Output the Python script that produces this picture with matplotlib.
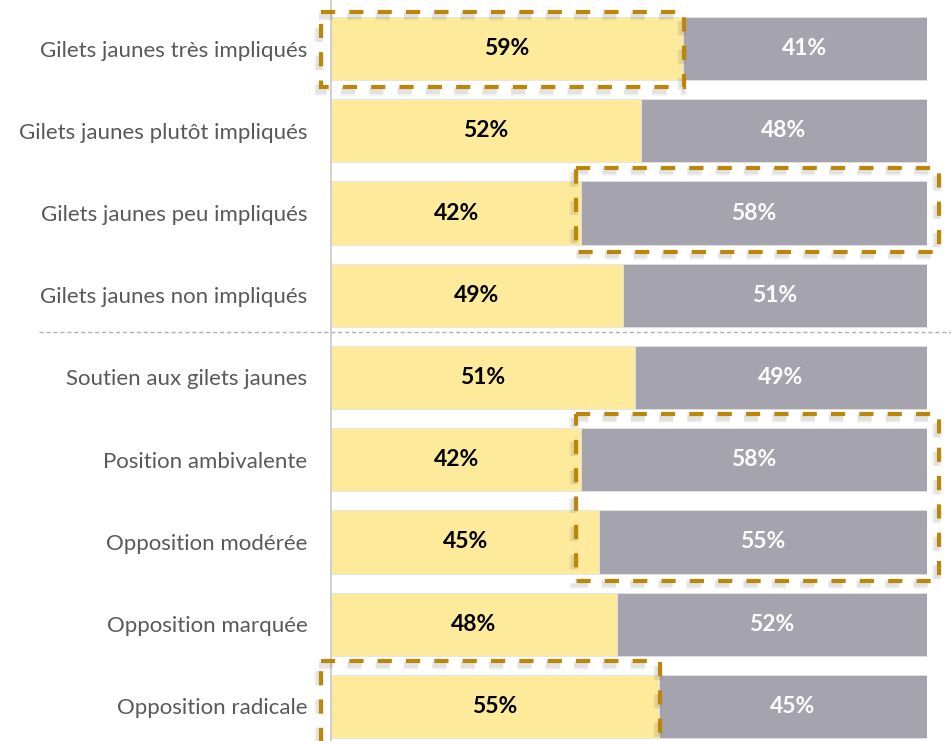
import matplotlib
matplotlib.use('Agg')
import matplotlib.pyplot as plt
import matplotlib.transforms as mtransforms
from matplotlib.patches import Rectangle

categories = ['Gilets jaunes très impliqués', 'Gilets jaunes plutôt impliqués',
              'Gilets jaunes peu impliqués', 'Gilets jaunes non impliqués',
              'Soutien aux gilets jaunes', 'Position ambivalente',
              'Opposition modérée', 'Opposition marquée', 'Opposition radicale']
yes_vals = [59, 52, 42, 49, 51, 42, 45, 48, 55]
no_vals = [41, 48, 58, 51, 49, 58, 55, 52, 45]

# highlighted blocks: (first row, last row, segment)
highlights = [(0, 0, 'yes'), (2, 2, 'no'), (5, 6, 'no'), (8, 8, 'yes')]
separator_after = 3

yellow = '#FDEA9B'
grey = '#A5A4AE'
gold = '#BA8709'

plt.rcParams['font.family'] = ['Lato', 'DejaVu Sans']

fig = plt.figure(figsize=(9.51, 7.41), dpi=100)
ax = fig.add_axes([331 / 951, 0, 596 / 951, 1])

y = list(range(len(categories)))
ax.barh(y, yes_vals, height=0.77, color=yellow, edgecolor='#e4e4e4', linewidth=0.6)
ax.barh(y, no_vals, left=yes_vals, height=0.77, color=grey, edgecolor='#e4e4e4', linewidth=0.6)

for i in y:
    ax.text(yes_vals[i] / 2, i, f'{yes_vals[i]}%', ha='center', va='center',
            fontsize=16.5, fontweight='bold', color='black')
    ax.text(yes_vals[i] + no_vals[i] / 2, i, f'{no_vals[i]}%', ha='center', va='center',
            fontsize=16.5, fontweight='bold', color='white')

ax.set_xlim(0, 100)
ax.set_ylim(8.42, -0.59)
ax.set_yticks(y)
ax.set_yticklabels(categories, fontsize=16, color='#595959')
ax.tick_params(axis='y', length=0, pad=17)
ax.set_xticks([])
for s in ['top', 'right', 'bottom']:
    ax.spines[s].set_visible(False)
ax.spines['left'].set_color('#c8c8c8')
ax.spines['left'].set_linewidth(1.2)

# separator between the two groups
sep_y = separator_after + 0.45
ax.plot([-49, 110], [sep_y, sep_y], ls=(0, (3, 2)), color='#b0b0b0', lw=1,
        clip_on=False, zorder=1)

# dashed highlight boxes with a soft shadow
dash_len = 10.2  # points
shadow_tr = ax.transData + mtransforms.ScaledTranslation(-1.5 / 72, -2.5 / 72, fig.dpi_scale_trans)
for r0, r1, seg in highlights:
    rows = range(r0, r1 + 1)
    if seg == 'yes':
        x0 = -1.7
        x1 = max(yes_vals[r] for r in rows) + 0.2
    else:
        x0 = min(yes_vals[r] for r in rows) - 0.9
        x1 = 102
    y0 = max(r0 - 0.55, -0.44)
    y1 = r1 + 0.47
    for lw, a in [(7, 0.07), (4.5, 0.12)]:
        ax.add_patch(Rectangle((x0, y0), x1 - x0, y1 - y0, fill=False, edgecolor='#666666',
                               alpha=a, lw=lw, ls=(0, (dash_len / lw, dash_len / lw)),
                               transform=shadow_tr, clip_on=False, zorder=4))
    ax.add_patch(Rectangle((x0, y0), x1 - x0, y1 - y0, fill=False, edgecolor=gold,
                           lw=3, ls=(0, (dash_len / 3, dash_len / 3)), clip_on=False, zorder=5))

plt.savefig('out.png', dpi=100)
